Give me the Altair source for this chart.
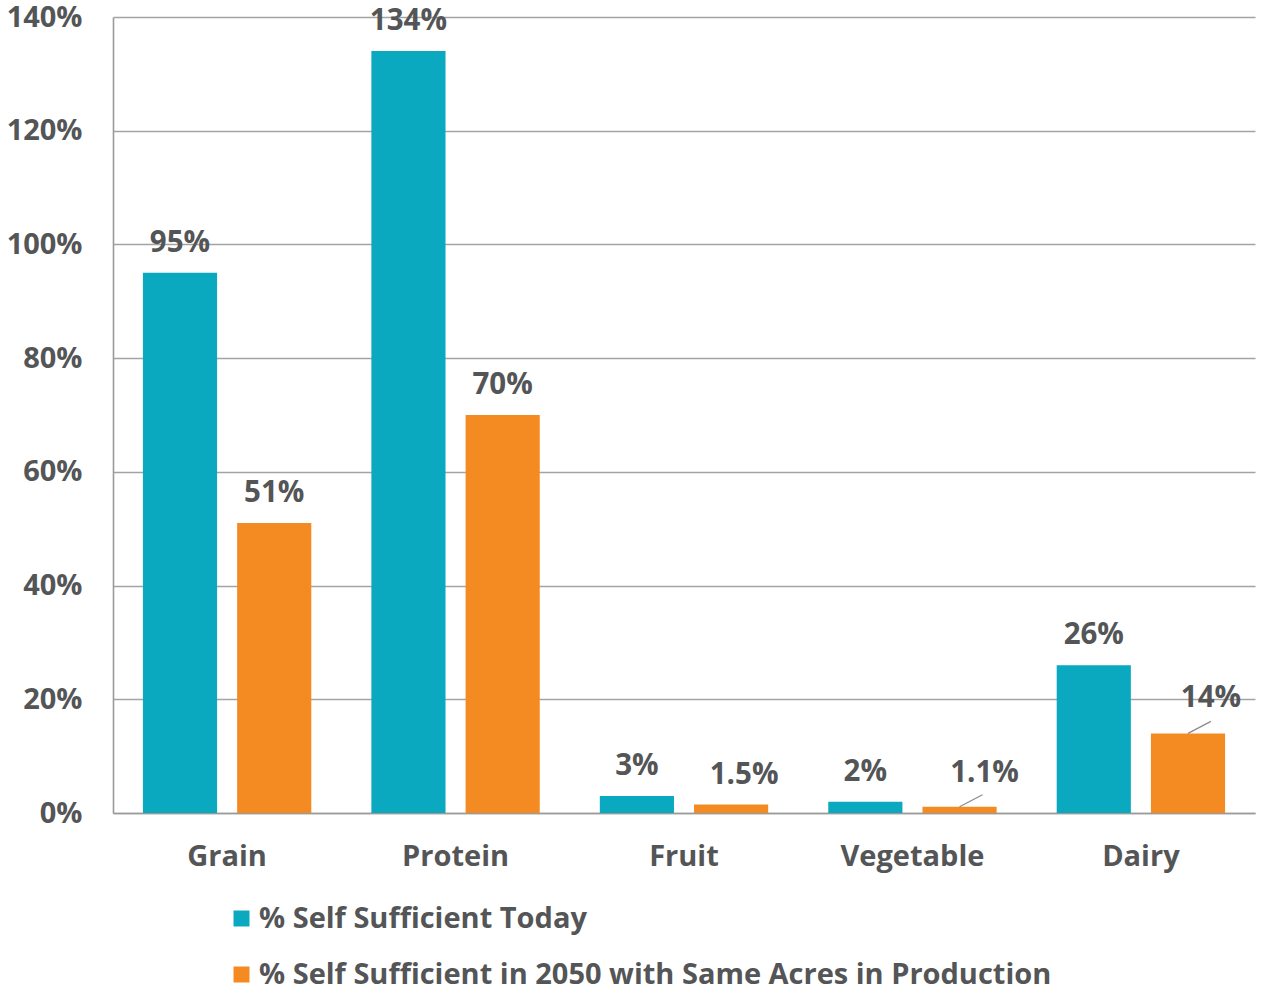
import altair as alt
import pandas as pd

# Self-sufficiency by food group
categories = ["Grain", "Protein", "Fruit", "Vegetable", "Dairy"]
today = [95, 134, 3, 2, 26]
future_2050 = [51, 70, 1.5, 1.1, 14]
series_names = [
    "% Self Sufficient Today",
    "% Self Sufficient in 2050 with Same Acres in Production",
]
series_colors = ["#0AA9C0", "#F48A22"]
y_ticks = [0, 20, 40, 60, 80, 100, 120, 140]

rows = []
for cat, a, b in zip(categories, today, future_2050):
    rows.append({"cat": cat, "series": series_names[0], "value": a, "label": f"{a:g}%"})
    rows.append({"cat": cat, "series": series_names[1], "value": b, "label": f"{b:g}%"})
df = pd.DataFrame(rows)

# labels moved aside (dx, dy, draw leader line)
nudges = {
    ("Fruit", series_names[1]): (13, -20, False),
    ("Vegetable", series_names[1]): (25, -25, True),
    ("Dairy", series_names[1]): (23, -26, True),
}

FONT = "Open Sans"
TEXT = "#545557"
AXIS_FS = 29
LABEL_FS = 29.5

x_enc = alt.X(
    "cat:N",
    sort=categories,
    title=None,
    scale=alt.Scale(paddingInner=0.263, paddingOuter=0.131),
    axis=alt.Axis(
        labelAngle=0, labelFont=FONT, labelFontSize=AXIS_FS, labelFontWeight="bold",
        labelColor=TEXT, labelPadding=29, ticks=False, domainColor="#9a9a9a",
        domainWidth=1.6, grid=False,
    ),
)
xo_enc = alt.XOffset("series:N", sort=series_names,
                     scale=alt.Scale(paddingInner=0.213, paddingOuter=0))
y_enc = alt.Y(
    "value:Q",
    title=None,
    scale=alt.Scale(domain=[0, 140], nice=False),
    axis=alt.Axis(
        values=y_ticks, labelExpr="datum.value + '%'", labelFont=FONT,
        labelFontSize=AXIS_FS, labelFontWeight="bold", labelColor=TEXT,
        labelPadding=31, ticks=False, domainColor="#9a9a9a", domainWidth=1.6,
        gridColor="#a3a3a3", gridWidth=1.3,
    ),
)

base = alt.Chart(df)

bars = base.mark_bar().encode(
    x=x_enc,
    xOffset=xo_enc,
    y=y_enc,
    color=alt.Color(
        "series:N",
        sort=series_names,
        scale=alt.Scale(domain=series_names, range=series_colors),
        legend=alt.Legend(
            title=None, orient="none", legendX=114, legendY=887,
            symbolType="square", symbolSize=256, symbolStrokeWidth=0,
            labelFont=FONT, labelFontSize=AXIS_FS, labelFontWeight="bold",
            labelColor=TEXT, labelOffset=3, rowPadding=26, padding=0,
            labelLimit=1000, direction="vertical",
        ),
    ),
)

nudge_filter = " || ".join(
    f"(datum.cat == '{c}' && datum.series == '{s}')" for (c, s) in nudges
)

labels = base.mark_text(
    font=FONT, fontSize=LABEL_FS, fontWeight="bold", color=TEXT,
    baseline="alphabetic", dy=-21,
).encode(x=x_enc, xOffset=xo_enc, y=y_enc, text="label:N").transform_filter(
    f"!({nudge_filter})"
)

layers = [bars, labels]
for (c, s), (dx, dy, leader) in nudges.items():
    sel = f"datum.cat == '{c}' && datum.series == '{s}'"
    layers.append(
        base.mark_text(
            font=FONT, fontSize=LABEL_FS, fontWeight="bold", color=TEXT,
            baseline="alphabetic", dx=dx, dy=dy,
        ).encode(x=x_enc, xOffset=xo_enc, y=y_enc, text="label:N").transform_filter(sel)
    )
    if leader:
        layers.append(
            base.mark_rule(color="#8a8a8a", strokeWidth=1.2, x2Offset=70, y2Offset=-12)
            .encode(x=x_enc, xOffset=xo_enc, y=y_enc, x2="cat:N", y2="value:Q")
            .transform_filter(sel)
        )

chart = (
    alt.layer(*layers)
    .properties(
        width=1142, height=796,
        autosize=alt.AutoSizeParams(type="none"),
        padding={"left": 113, "top": 17, "right": 6, "bottom": 177},
    )
    .configure_view(stroke=None)
)

chart.save("out.html", embed_options={"renderer": "svg", "actions": False})
